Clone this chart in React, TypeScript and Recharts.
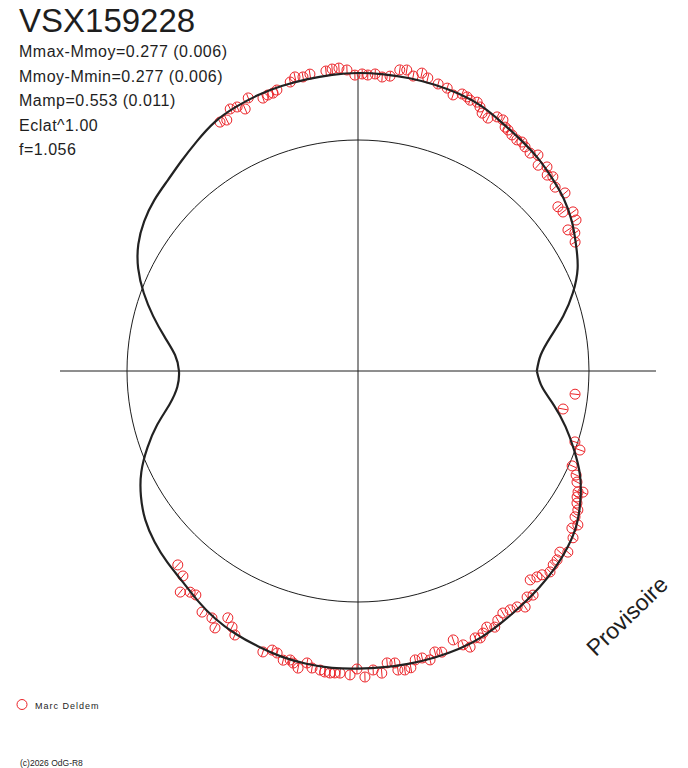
import React from "react";
import { ScatterChart, Scatter, XAxis, YAxis, ReferenceLine } from "recharts";

// model light curve, relative flux (mean level = 1) every 5 degrees of phase
const MODEL_DEG = [
  0, 5, 10, 15, 20, 25, 30, 35, 40, 45, 50, 55, 60, 65, 70, 75, 80, 85,
  90, 95, 100, 105, 110, 115, 120, 125, 130, 135, 140, 145, 150, 155, 160, 165, 170, 175,
  180, 185, 190, 195, 200, 205, 210, 215, 220, 225, 230, 235, 240, 245, 250, 255, 260, 265,
  270, 275, 280, 285, 290, 295, 300, 305, 310, 315, 320, 325, 330, 335, 340, 345, 350, 355,
];
const MODEL_FLUX = [
  0.774, 0.794, 0.846, 0.920, 0.990, 1.049, 1.090, 1.130, 1.162, 1.185, 1.207, 1.224, 1.243, 1.265, 1.277, 1.283, 1.287, 1.289,
  1.290, 1.287, 1.282, 1.277, 1.270, 1.259, 1.243, 1.215, 1.188, 1.166, 1.151, 1.130, 1.098, 1.050, 0.987, 0.918, 0.850, 0.795,
  0.775, 0.785, 0.828, 0.900, 0.970, 1.035, 1.085, 1.124, 1.150, 1.169, 1.186, 1.212, 1.237, 1.255, 1.268, 1.280, 1.287, 1.290,
  1.288, 1.287, 1.286, 1.284, 1.280, 1.270, 1.253, 1.237, 1.222, 1.206, 1.185, 1.156, 1.112, 1.060, 0.995, 0.930, 0.862, 0.800,
];
const MEAN_FLUX = 1;

// observations (Marc Deldem): phase angle in degrees, relative flux
const OBS_DEG = [
  119.0, 117.6, 116.0, 114.6, 113.3, 111.9, 109.2, 108.1, 107.0, 106.1, 103.2, 102.1, 100.6, 99.2, 96.1, 94.9,
  93.6, 92.1, 90.6, 89.2, 88.1, 86.7, 85.3, 83.8, 82.1, 80.8, 79.4, 77.9, 76.6, 74.4, 72.5, 71.0,
  69.4, 68.3, 67.5, 66.1, 65.2, 64.3, 62.8, 61.3, 60.0, 58.9, 58.1, 56.9, 55.5, 54.4, 53.3, 51.7,
  50.2, 48.8, 47.2, 46.0, 44.9, 43.0, 40.7, 39.4, 37.8, 36.5, 34.7, 33.9, 32.5, 30.7, 353.9, 349.5,
  341.9, 340.4, 336.1, 334.5, 333.1, 331.2, 331.7, 330.1, 328.9, 327.7, 326.1, 325.0, 323.7, 322.2, 318.1, 319.2,
  316.5, 315.2, 313.7, 312.1, 311.0, 309.5, 308.0, 306.8, 305.3, 304.0, 302.5, 300.9, 299.3, 298.1, 296.7, 295.5,
  294.6, 293.7, 292.1, 291.0, 289.5, 286.6, 285.3, 284.0, 282.6, 281.2, 280.1, 278.9, 277.6, 277.2, 275.7, 274.5,
  272.9, 271.3, 269.8, 268.5, 266.6, 265.6, 264.7, 263.7, 262.8, 261.2, 260.1, 258.6, 257.5, 256.8, 255.5, 254.0,
  252.9, 251.3, 245.0, 243.8, 240.9, 242.2, 239.4, 237.1, 234.1, 232.8, 231.2, 229.5, 227.1,
];
const OBS_FLUX = [
  1.232, 1.226, 1.262, 1.257, 1.235, 1.274, 1.251, 1.257, 1.258, 1.266, 1.285, 1.302, 1.295, 1.302, 1.306, 1.312,
  1.314, 1.304, 1.281, 1.286, 1.282, 1.288, 1.277, 1.284, 1.316, 1.320, 1.299, 1.319, 1.304, 1.290, 1.284, 1.264,
  1.281, 1.277, 1.269, 1.273, 1.259, 1.239, 1.231, 1.254, 1.255, 1.233, 1.229, 1.220, 1.214, 1.219, 1.210, 1.202,
  1.217, 1.184, 1.204, 1.179, 1.191, 1.167, 1.182, 1.120, 1.123, 1.158, 1.148, 1.095, 1.113, 1.093, 0.945, 0.903,
  0.988, 1.020, 1.014, 1.046, 1.063, 1.087, 1.106, 1.094, 1.107, 1.126, 1.132, 1.162, 1.149, 1.178, 1.174, 1.200,
  1.188, 1.191, 1.203, 1.189, 1.181, 1.172, 1.231, 1.222, 1.252, 1.232, 1.226, 1.221, 1.237, 1.257, 1.241, 1.257,
  1.271, 1.262, 1.290, 1.270, 1.235, 1.270, 1.261, 1.289, 1.273, 1.275, 1.305, 1.310, 1.306, 1.274, 1.270, 1.312,
  1.296, 1.325, 1.290, 1.316, 1.310, 1.311, 1.313, 1.311, 1.305, 1.301, 1.283, 1.312, 1.295, 1.285, 1.293, 1.270,
  1.264, 1.284, 1.261, 1.235, 1.273, 1.208, 1.242, 1.243, 1.197, 1.202, 1.228, 1.167, 1.146,
];

const INFO_LINES = [
  "Mmax-Mmoy=0.277 (0.006)",
  "Mmoy-Mmin=0.277 (0.006)",
  "Mamp=0.553 (0.011)",
  "Eclat^1.00",
  "f=1.056",
];

const W = 688;
const H = 768;
const CX = 358;
const CY = 371;
const PX = 231; // pixels per flux unit
const RED = "#ec2227";
const INK = "#1e1e1e";
const FONT = "'Liberation Sans', Arial, sans-serif";

const rad = (d: number) => (d * Math.PI) / 180;
const polar = (deg: number, flux: number) => ({
  deg,
  x: flux * Math.cos(rad(deg)),
  y: flux * Math.sin(rad(deg)),
});

const modelPts = MODEL_DEG.map((d, i) => polar(d, MODEL_FLUX[i]));
modelPts.push(modelPts[0]);
const meanPts = MODEL_DEG.map((d) => polar(d, MEAN_FLUX));
meanPts.push(meanPts[0]);
const obsPts = OBS_DEG.map((d, i) => polar(d, OBS_FLUX[i]));
const axisLen = Math.max(...MODEL_FLUX);

const ObsMarker = (props: any) => {
  const { cx, cy, payload } = props;
  const a = rad(payload.deg);
  const ux = Math.cos(a) * 4.5;
  const uy = -Math.sin(a) * 4.5;
  return (
    <g>
      <circle cx={cx} cy={cy} r={5} fill="none" stroke={RED} strokeWidth={1} />
      <line x1={cx - ux} y1={cy - uy} x2={cx + ux} y2={cy + uy} stroke={RED} strokeWidth={1} />
    </g>
  );
};

const NoDot = () => <g />;

export default function App() {
  return (
    <div style={{ position: "absolute", left: 0, top: 0, width: W, height: H, background: "#fff" }}>
      <ScatterChart width={W} height={H} margin={{ top: 0, right: 0, bottom: 0, left: 0 }}>
        <XAxis type="number" dataKey="x" hide allowDataOverflow domain={[-CX / PX, (W - CX) / PX]} />
        <YAxis type="number" dataKey="y" hide allowDataOverflow domain={[-(H - CY) / PX, CY / PX]} />
        <ReferenceLine
          segment={[{ x: -axisLen, y: 0 }, { x: axisLen, y: 0 }]}
          stroke={INK}
          strokeWidth={1}
        />
        <ReferenceLine
          segment={[{ x: 0, y: -axisLen }, { x: 0, y: axisLen }]}
          stroke={INK}
          strokeWidth={1}
        />
        <Scatter
          data={meanPts}
          line={{ stroke: INK, strokeWidth: 1 }}
          lineType="joint"
          lineJointType="natural"
          shape={NoDot}
          isAnimationActive={false}
        />
        <Scatter data={obsPts} shape={ObsMarker} isAnimationActive={false} />
        <Scatter
          data={modelPts}
          line={{ stroke: "#222", strokeWidth: 2.2 }}
          lineType="joint"
          lineJointType="natural"
          shape={NoDot}
          isAnimationActive={false}
        />
      </ScatterChart>
      <svg
        width={W}
        height={H}
        style={{ position: "absolute", left: 0, top: 0, pointerEvents: "none" }}
        fontFamily={FONT}
      >
        <text x={19} y={32} fontSize={33} fill={INK}>
          VSX159228
        </text>
        {INFO_LINES.map((t, i) => (
          <text key={t} x={19} y={57 + i * 24.5} fontSize={16} letterSpacing={0.5} fill={INK}>
            {t}
          </text>
        ))}
        <g transform="translate(627,616) rotate(-44)">
          <text x={0} y={8} fontSize={23} textAnchor="middle" fill={INK}>
            Provisoire
          </text>
        </g>
        <circle cx={22} cy={704.5} r={5} fill="none" stroke={RED} strokeWidth={1} />
        <text x={35} y={709} fontSize={9} letterSpacing={1} fill={INK}>
          Marc Deldem
        </text>
        <text x={20} y={766} fontSize={8.5} fill={INK}>
          (c)2026 OdG-R8
        </text>
      </svg>
    </div>
  );
}
